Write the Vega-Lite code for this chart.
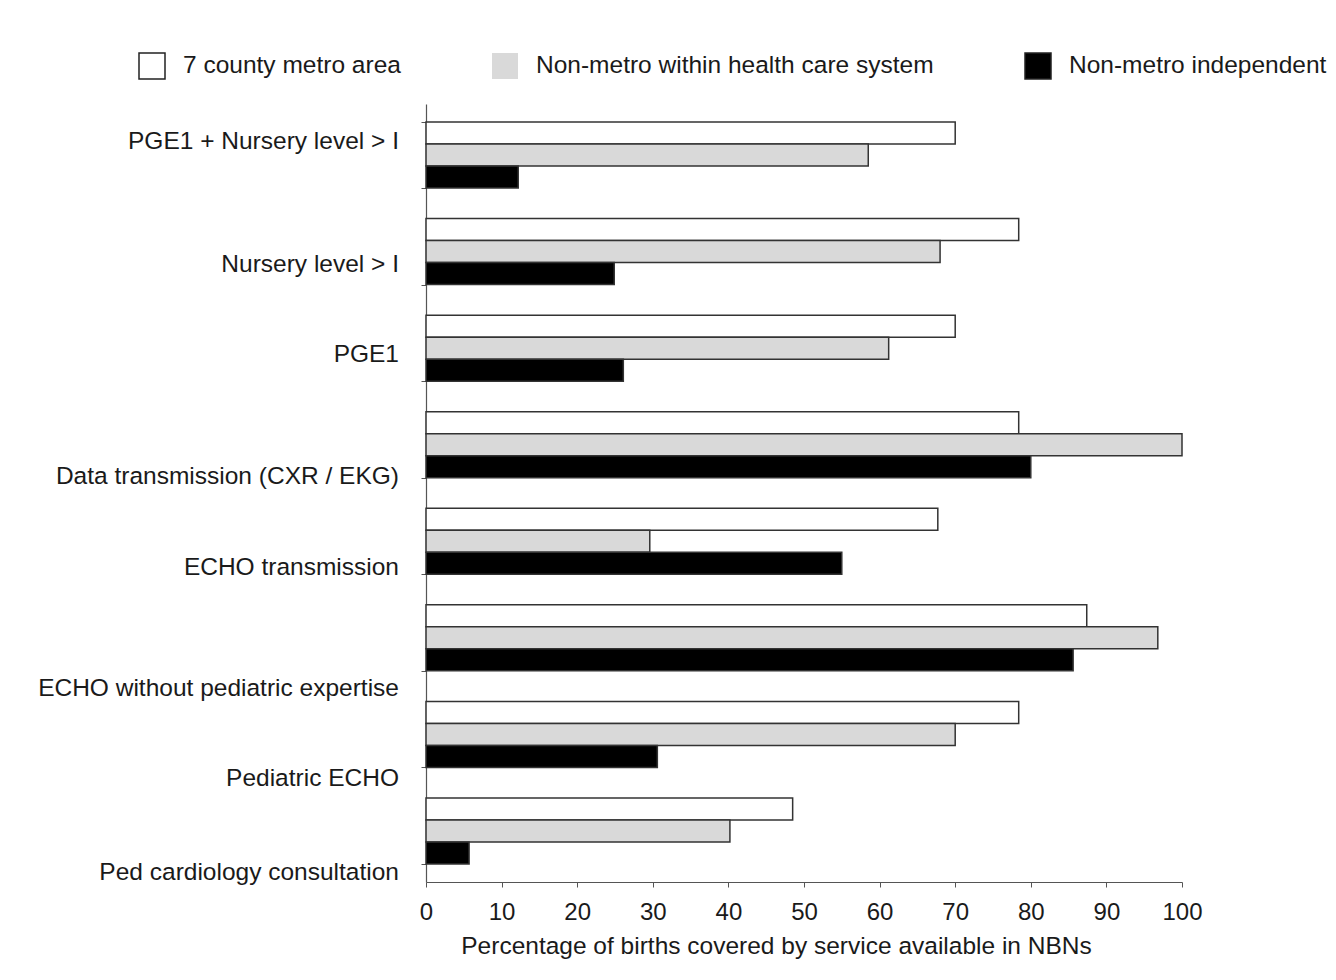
{
  "$schema": "https://vega.github.io/schema/vega-lite/v6.json",
  "width": 756,
  "height": 778,
  "autosize": {"type": "none"},
  "padding": {"left": 426, "top": 104, "right": 154, "bottom": 98},
  "background": "white",
  "config": {
    "font": "Liberation Sans",
    "view": {"stroke": null},
    "axis": {"labelFont": "Liberation Sans", "titleFont": "Liberation Sans", "labelColor": "#1a1a1a", "titleColor": "#1a1a1a", "domainColor": "#555", "tickColor": "#555", "grid": false}
  },
  "data": {
    "values": [
      {"service": "PGE1 + Nursery level > I", "group": "7 county metro area", "pct": 70.0},
      {"service": "PGE1 + Nursery level > I", "group": "Non-metro within health care system", "pct": 58.5},
      {"service": "PGE1 + Nursery level > I", "group": "Non-metro independent", "pct": 12.2},
      {"service": "Nursery level > I", "group": "7 county metro area", "pct": 78.4},
      {"service": "Nursery level > I", "group": "Non-metro within health care system", "pct": 68.0},
      {"service": "Nursery level > I", "group": "Non-metro independent", "pct": 24.9},
      {"service": "PGE1", "group": "7 county metro area", "pct": 70.0},
      {"service": "PGE1", "group": "Non-metro within health care system", "pct": 61.2},
      {"service": "PGE1", "group": "Non-metro independent", "pct": 26.1},
      {"service": "Data transmission (CXR / EKG)", "group": "7 county metro area", "pct": 78.4},
      {"service": "Data transmission (CXR / EKG)", "group": "Non-metro within health care system", "pct": 100.0},
      {"service": "Data transmission (CXR / EKG)", "group": "Non-metro independent", "pct": 80.0},
      {"service": "ECHO transmission", "group": "7 county metro area", "pct": 67.7},
      {"service": "ECHO transmission", "group": "Non-metro within health care system", "pct": 29.6},
      {"service": "ECHO transmission", "group": "Non-metro independent", "pct": 55.0},
      {"service": "ECHO without pediatric expertise", "group": "7 county metro area", "pct": 87.4},
      {"service": "ECHO without pediatric expertise", "group": "Non-metro within health care system", "pct": 96.8},
      {"service": "ECHO without pediatric expertise", "group": "Non-metro independent", "pct": 85.6},
      {"service": "Pediatric ECHO", "group": "7 county metro area", "pct": 78.4},
      {"service": "Pediatric ECHO", "group": "Non-metro within health care system", "pct": 70.0},
      {"service": "Pediatric ECHO", "group": "Non-metro independent", "pct": 30.6},
      {"service": "Ped cardiology consultation", "group": "7 county metro area", "pct": 48.5},
      {"service": "Ped cardiology consultation", "group": "Non-metro within health care system", "pct": 40.2},
      {"service": "Ped cardiology consultation", "group": "Non-metro independent", "pct": 5.7}
    ]
  },
  "encoding": {
    "y": {
      "field": "service",
      "type": "nominal",
      "sort": null,
      "scale": {"paddingInner": 0.317, "paddingOuter": 0.187},
      "axis": {"title": null, "labels": false, "tickBand": "extent", "tickSize": 5, "domainWidth": 1.2}
    }
  },
  "layer": [
    {
      "mark": {"type": "bar", "stroke": "#333", "strokeWidth": 1.5},
      "encoding": {
        "x": {
          "field": "pct",
          "type": "quantitative",
          "scale": {"domain": [0, 100], "nice": false},
          "axis": {"title": "Percentage of births covered by service available in NBNs", "titleX": 350, "titleAlign": "center", "values": [0,10,20,30,40,50,60,70,80,90,100], "labelFontSize": 24, "labelFlush": false, "titleFontSize": 24.5, "titleFontWeight": "normal", "tickSize": 5, "labelPadding": 13, "titlePadding": 10, "domainWidth": 1.2}
        },
        "yOffset": {"field": "group", "type": "nominal", "sort": ["7 county metro area", "Non-metro within health care system", "Non-metro independent"], "scale": {"paddingInner": 0, "paddingOuter": 0}},
        "fill": {
          "field": "group",
          "type": "nominal",
          "sort": ["7 county metro area", "Non-metro within health care system", "Non-metro independent"],
          "scale": {"domain": ["7 county metro area", "Non-metro within health care system", "Non-metro independent"], "range": ["#ffffff", "#d9d9d9", "#000000"]},
          "legend": {
            "title": null,
            "orient": "none",
            "direction": "horizontal",
            "legendX": -288,
            "legendY": -52,
            "symbolType": "square",
            "symbolSize": 676,
            "symbolStrokeWidth": 1.5,
            "labelFontSize": 24.5,
            "labelColor": "#1a1a1a",
            "labelOffset": 17,
            "columnPadding": 88,
            "labelLimit": 600,
            "encoding": {
              "symbols": {
                "stroke": {"condition": {"test": "datum.value == 'Non-metro within health care system'", "value": "transparent"}, "value": "#222"}
              }
            }
          }
        }
      }
    },
    {
      "mark": {
        "type": "text",
        "align": "right",
        "baseline": "middle",
        "dx": -27,
        "fontSize": 24.5,
        "color": "#1a1a1a",
        "dy": {"expr": "datum.service == 'PGE1 + Nursery level > I' ? -13 : datum.service == 'Nursery level > I' ? 13 : datum.service == 'PGE1' ? 7 : datum.service == 'Data transmission (CXR / EKG)' ? 32 : datum.service == 'ECHO transmission' ? 27 : datum.service == 'ECHO without pediatric expertise' ? 51 : datum.service == 'Pediatric ECHO' ? 45 : 42"}
      },
      "transform": [{"filter": "datum.group == '7 county metro area'"}],
      "encoding": {
        "x": {"datum": 0, "type": "quantitative"},
        "text": {"field": "service"}
      }
    }
  ]
}
